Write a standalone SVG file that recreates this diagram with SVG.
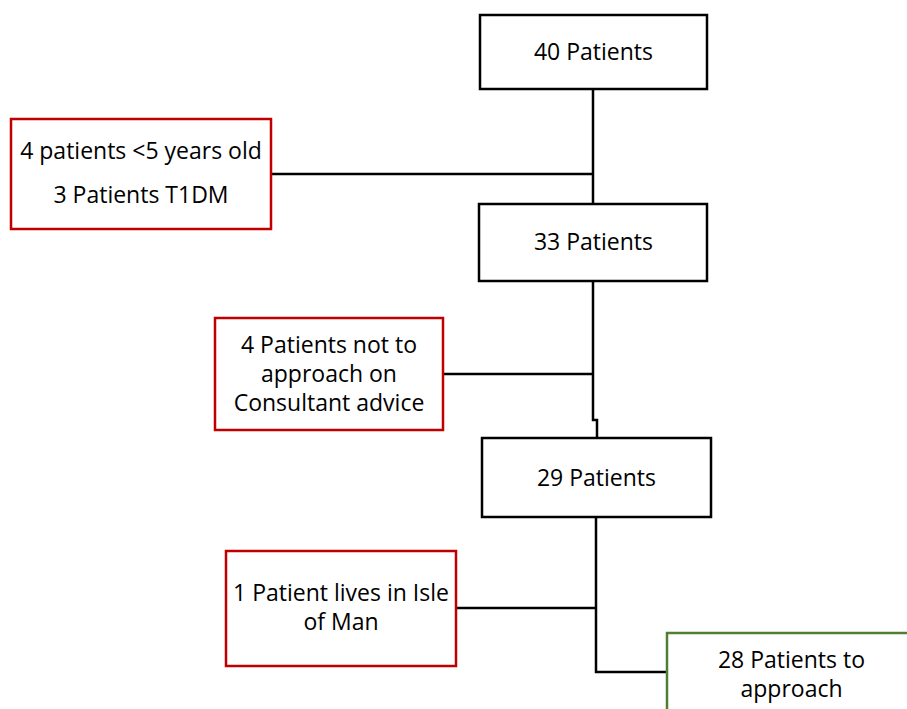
<svg xmlns="http://www.w3.org/2000/svg" width="907" height="709" viewBox="0 0 907 709">
<style>
  .box { fill: #ffffff; stroke-width: 2.5; }
  .main { stroke: #000000; }
  .excl { stroke: #C00000; }
  .final { stroke: #507E32; }
  .lbl { font-family: "Open Sans", "Liberation Sans", sans-serif; font-size: 23px; fill: #000000; text-anchor: middle; }
  .conn { fill: none; stroke: #000000; stroke-width: 2.5; }
</style>
<rect width="907" height="709" fill="#ffffff"/>
<g id="connectors">
  <path class="conn" d="M593 89 V204"/>
  <path class="conn" d="M271 174 H593"/>
  <path class="conn" d="M593 281 V420 H597 V438"/>
  <path class="conn" d="M443 374 H593"/>
  <path class="conn" d="M596 517 V672 H667"/>
  <path class="conn" d="M456 608 H596"/>
</g>
<g id="n40">
  <rect class="box main" x="480" y="15" width="227" height="74"/>
  <text class="lbl" x="593.5" y="60">40 Patients</text>
</g>
<g id="excl1">
  <rect class="box excl" x="11" y="119" width="260" height="110"/>
  <text class="lbl" x="141" y="159">4 patients &lt;5 years old</text>
  <text class="lbl" x="141" y="203">3 Patients T1DM</text>
</g>
<g id="n33">
  <rect class="box main" x="479" y="204" width="228" height="77"/>
  <text class="lbl" x="593.5" y="250">33 Patients</text>
</g>
<g id="excl2">
  <rect class="box excl" x="215" y="318" width="228" height="112"/>
  <text class="lbl" x="329" y="353">4 Patients not to</text>
  <text class="lbl" x="329" y="382">approach on</text>
  <text class="lbl" x="329" y="411">Consultant advice</text>
</g>
<g id="n29">
  <rect class="box main" x="482" y="438" width="229" height="79"/>
  <text class="lbl" x="596.5" y="486">29 Patients</text>
</g>
<g id="excl3">
  <rect class="box excl" x="226" y="551" width="230" height="115"/>
  <text class="lbl" x="341" y="601">1 Patient lives in Isle</text>
  <text class="lbl" x="341" y="630">of Man</text>
</g>
<g id="n28">
  <rect class="box final" x="667" y="633" width="249" height="120"/>
  <text class="lbl" x="791.5" y="668">28 Patients to</text>
  <text class="lbl" x="791.5" y="697">approach</text>
</g>
</svg>
